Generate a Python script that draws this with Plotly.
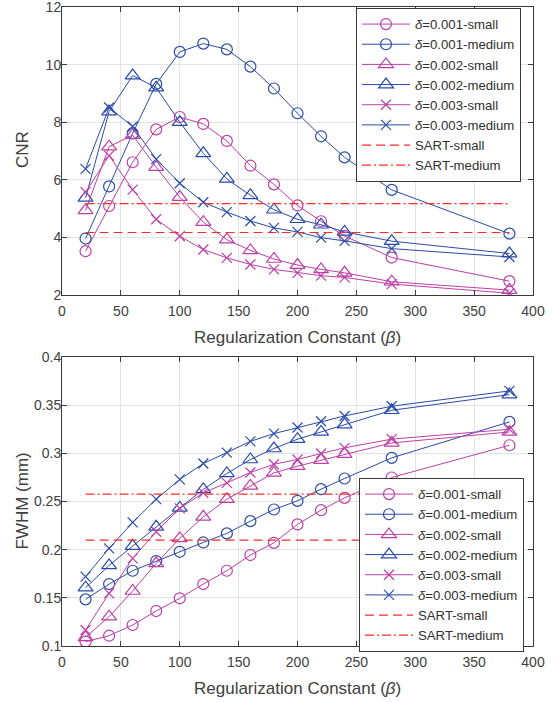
import plotly.graph_objects as go

beta = [20, 40, 60, 80, 100, 120, 140, 160, 180, 200, 220, 240, 280, 380]

# CNR (top)
cnr_001_small = [3.52, 5.09, 6.61, 7.75, 8.18, 7.94, 7.35, 6.49, 5.84, 5.11, 4.56, 4.05, 3.30, 2.48]
cnr_001_medium = [3.96, 5.77, 7.61, 9.33, 10.44, 10.73, 10.53, 9.93, 9.17, 8.31, 7.51, 6.78, 5.65, 4.13]
cnr_002_small = [4.94, 7.15, 7.55, 6.44, 5.40, 4.53, 3.92, 3.55, 3.25, 3.04, 2.89, 2.77, 2.46, 2.17]
cnr_002_medium = [5.37, 8.37, 9.62, 9.20, 8.00, 6.92, 6.03, 5.46, 4.96, 4.63, 4.44, 4.19, 3.87, 3.44]
cnr_003_small = [5.57, 6.84, 5.66, 4.63, 4.04, 3.58, 3.29, 3.06, 2.89, 2.77, 2.67, 2.61, 2.38, 2.06]
cnr_003_medium = [6.38, 8.51, 7.85, 6.72, 5.88, 5.22, 4.88, 4.57, 4.33, 4.19, 3.99, 3.88, 3.61, 3.32]
cnr_sart_small = 4.17
cnr_sart_medium = 5.17

# FWHM (bottom)
fw_001_small = [0.1045, 0.1107, 0.1218, 0.1363, 0.1495, 0.1643, 0.1781, 0.1944, 0.2071, 0.2262, 0.2410, 0.2538, 0.2749, 0.3084]
fw_001_medium = [0.1484, 0.1643, 0.1781, 0.1882, 0.1978, 0.2075, 0.2169, 0.2296, 0.2417, 0.2507, 0.2628, 0.2739, 0.2953, 0.3326]
fw_002_small = [0.1090, 0.1304, 0.1571, 0.1858, 0.2117, 0.2341, 0.2524, 0.2662, 0.2797, 0.2867, 0.2929, 0.2991, 0.3108, 0.3222]
fw_002_medium = [0.1605, 0.1837, 0.2037, 0.2237, 0.2434, 0.2625, 0.2791, 0.2936, 0.3050, 0.3147, 0.3222, 0.3299, 0.3447, 0.3610]
fw_003_small = [0.1166, 0.1547, 0.1910, 0.2186, 0.2428, 0.2590, 0.2694, 0.2801, 0.2887, 0.2936, 0.2998, 0.3057, 0.3147, 0.3250]
fw_003_medium = [0.1720, 0.2013, 0.2283, 0.2524, 0.2729, 0.2894, 0.3008, 0.3124, 0.3205, 0.3268, 0.3333, 0.3388, 0.3489, 0.3648]
fw_sart_small = 0.210
fw_sart_medium = 0.2576

sart_x = [20, 380]

x_ticks = [0, 50, 100, 150, 200, 250, 300, 350, 400]
cnr_ticks = [2, 4, 6, 8, 10, 12]
fw_ticks = [0.1, 0.15, 0.2, 0.25, 0.3, 0.35, 0.4]
fw_ticktext = ["0.1", "0.15", "0.2", "0.25", "0.3", "0.35", "0.4"]

names = ["<i>δ</i>=0.001-small", "<i>δ</i>=0.001-medium", "<i>δ</i>=0.002-small",
         "<i>δ</i>=0.002-medium", "<i>δ</i>=0.003-small", "<i>δ</i>=0.003-medium"]
sart_names = ["SART-small", "SART-medium"]
x_title = "Regularization Constant (<i>β</i>)"
y_titles = ["CNR", "FWHM (mm)"]

PINK = "#BC3FA6"
BLUE = "#2A4BA8"
RED = "#FF2A2A"
TXT = "#404040"
colors = [PINK, BLUE, PINK, BLUE, PINK, BLUE]
symbols = ["circle-open", "circle-open", "triangle-up-open", "triangle-up-open", "x-thin-open", "x-thin-open"]
sizes = [11, 11, 13, 13, 10, 10]

fig = go.Figure()

def add_panel(series, sart_small, sart_medium, xa, ya, legend):
    for s, n, c, sym, sz in zip(series, names, colors, symbols, sizes):
        fig.add_trace(go.Scatter(
            x=beta, y=s, name=n, mode="lines+markers", xaxis=xa, yaxis=ya, legend=legend,
            line=dict(color=c, width=1),
            marker=dict(symbol=sym, size=sz, color=c, line=dict(color=c, width=1.2)),
        ))
    fig.add_trace(go.Scatter(
        x=sart_x, y=[sart_small, sart_small], name=sart_names[0], mode="lines",
        xaxis=xa, yaxis=ya, legend=legend, line=dict(color=RED, width=1.2, dash="9px,5px")))
    fig.add_trace(go.Scatter(
        x=sart_x, y=[sart_medium, sart_medium], name=sart_names[1], mode="lines",
        xaxis=xa, yaxis=ya, legend=legend, line=dict(color=RED, width=1.2, dash="9px,3px,2px,3px")))

add_panel([cnr_001_small, cnr_001_medium, cnr_002_small, cnr_002_medium, cnr_003_small, cnr_003_medium],
          cnr_sart_small, cnr_sart_medium, "x", "y", "legend")
add_panel([fw_001_small, fw_001_medium, fw_002_small, fw_002_medium, fw_003_small, fw_003_medium],
          fw_sart_small, fw_sart_medium, "x2", "y2", "legend2")

W, H = 559, 702
x0, x1 = 62 / W, 533 / W
top = (1 - 295 / H, 1 - 7 / H)
bot = (1 - 646 / H, 1 - 357 / H)

axis_common = dict(
    showline=True, linecolor="#3a3a3a", linewidth=1, mirror="ticks",
    ticks="inside", ticklen=5, tickcolor="#3a3a3a", tickwidth=1,
    showgrid=True, gridcolor="#E3E3E3", gridwidth=1, zeroline=False,
    tickfont=dict(size=14, color=TXT), automargin=False, ticklabeloverflow="allow",
)
xaxis_extra = dict(ticklabelstandoff=3)
yaxis_extra = dict(ticklabelstandoff=-3)

legend_common = dict(xanchor="left", yanchor="top",
                     bgcolor="white", bordercolor="#3a3a3a", borderwidth=1,
                     font=dict(size=13.2, color="#303030"), tracegroupgap=0, itemwidth=48)

fig.update_layout(
    width=W, height=H,
    margin=dict(l=0, r=0, t=0, b=0),
    paper_bgcolor="white", plot_bgcolor="white",
    font=dict(family="Liberation Sans, Arial, sans-serif", color=TXT),
    showlegend=True,
    xaxis=dict(domain=[x0, x1], anchor="y", range=[0, 400], tickvals=x_ticks, **axis_common, **xaxis_extra),
    yaxis=dict(domain=list(top), anchor="x", range=[2, 12], tickvals=cnr_ticks, **axis_common, **yaxis_extra),
    xaxis2=dict(domain=[x0, x1], anchor="y2", range=[0, 400], tickvals=x_ticks, **axis_common, **xaxis_extra),
    yaxis2=dict(domain=list(bot), anchor="x2", range=[0.1, 0.4], tickvals=fw_ticks, ticktext=fw_ticktext,
                **axis_common, **yaxis_extra),
    legend=dict(x=356 / W, y=1 - 8 / H, **legend_common),
    legend2=dict(x=359 / W, y=1 - 478 / H, **legend_common),
)

title_font = dict(size=17, color=TXT)
# axis titles
for yc in (337, 688):
    fig.add_annotation(text=x_title, xref="paper", yref="paper", x=297.5 / W, y=1 - yc / H,
                       xanchor="center", yanchor="middle", showarrow=False, font=title_font)
for t, yc in zip(y_titles, (150, 501.5)):
    fig.add_annotation(text=t, xref="paper", yref="paper", x=22 / W, y=1 - yc / H, textangle=-90,
                       xanchor="center", yanchor="middle", showarrow=False, font=title_font)

fig.write_html("out.html", config={"displayModeBar": False},
               post_script="document.body.style.margin='0';document.body.style.padding='0';")
